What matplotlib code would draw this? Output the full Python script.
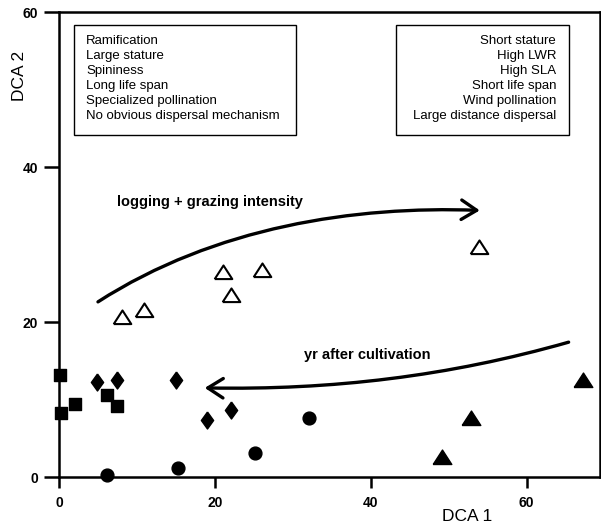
import matplotlib
matplotlib.use("Agg")
import matplotlib.pyplot as plt
from matplotlib.patches import FancyArrowPatch, Rectangle
from matplotlib.path import Path

plt.rcParams['font.family'] = ['Liberation Sans', 'DejaVu Sans']

# site scores (DCA 1, DCA 2) per group
sq_x = [0.1, 0.3, 2.0, 6.2, 7.4]
sq_y = [13.2, 8.3, 9.4, 10.6, 9.2]
dia_x = [4.9, 7.4, 15.0, 19.0, 22.1]
dia_y = [12.3, 12.5, 12.5, 7.4, 8.6]
circ_x = [6.2, 15.3, 25.1, 32.1]
circ_y = [0.2, 1.1, 3.1, 7.6]
tri_x = [49.1, 52.9, 67.2]
tri_y = [2.6, 7.6, 12.5]
open_x = [8.1, 10.9, 21.0, 22.1, 26.0, 53.9]
open_y = [20.7, 21.5, 26.5, 23.5, 26.7, 29.7]

left_traits = ["Ramification", "Large stature", "Spininess", "Long life span",
               "Specialized pollination", "No obvious dispersal mechanism"]
right_traits = ["Short stature", "High LWR", "High SLA", "Short life span",
                "Wind pollination", "Large distance dispersal"]

# bezier control points of the two trend arrows
arrow1 = [(5.0, 22.6), (20.0, 32.3), (38.0, 35.0), (54.0, 34.4)]
arrow2 = [(65.4, 17.4), (50.0, 13.0), (35.0, 11.2), (18.7, 11.5)]

fig = plt.figure(figsize=(6.01, 5.25), dpi=100)
ax = fig.add_axes([0.0982, 0.0914, 0.8998, 0.8857])

# custom marker shapes
diamond = [(0, 1), (0.72, 0), (0, -1), (-0.72, 0), (0, 1)]
triangle = [(-1, -0.75), (1, -0.75), (0, 0.8), (-1, -0.75)]

ax.scatter(sq_x, sq_y, marker="s", s=64, color="k", zorder=3, clip_on=False)
ax.scatter(dia_x, dia_y, marker=diamond, s=150, color="k", zorder=3, clip_on=False)
ax.scatter(circ_x, circ_y, marker="o", s=85, color="k", zorder=3, clip_on=False)
ax.scatter(tri_x, tri_y, marker=triangle, s=180, color="k", zorder=3, clip_on=False)
ax.scatter(open_x, open_y, marker=triangle, s=160, facecolor="white",
           edgecolor="k", linewidths=1.5, zorder=3, clip_on=False)

# trend arrows
codes = [Path.MOVETO, Path.CURVE4, Path.CURVE4, Path.CURVE4]
for pts in (arrow1, arrow2):
    arr = FancyArrowPatch(path=Path(pts, codes), arrowstyle="->,head_length=0.55,head_width=0.35",
                          mutation_scale=20, lw=2.4, color="k", transform=ax.transData)
    ax.add_patch(arr)

ax.text(7.4, 35.5, "logging + grazing intensity", fontsize=10.5, fontweight="bold", va="center")
ax.text(31.5, 15.7, "yr after cultivation", fontsize=10.5, fontweight="bold", va="center")

# trait boxes
ax.add_patch(Rectangle((1.9, 44.1), 28.5, 14.2, fill=False, lw=1, ec="k"))
ax.add_patch(Rectangle((43.3, 44.1), 22.1, 14.2, fill=False, lw=1, ec="k"))
for i, (lt, rt) in enumerate(zip(left_traits, right_traits)):
    y = 56.2 - i * 1.935
    ax.text(3.5, y, lt, fontsize=9.5, va="center", ha="left")
    ax.text(63.8, y, rt, fontsize=9.5, va="center", ha="right")

# axes formatting
ax.set_xlim(0, 69.4)
ax.set_ylim(0, 60)
ax.set_xticks([0, 20, 40, 60])
ax.set_yticks([0, 20, 40, 60])
for s in ax.spines.values():
    s.set_linewidth(1.8)
ax.tick_params(axis="x", direction="out", length=8, width=1.8, pad=6, labelsize=10)
ax.tick_params(axis="y", direction="out", length=11, width=1.8, pad=4, labelsize=10)
for lab in ax.get_xticklabels() + ax.get_yticklabels():
    lab.set_fontweight("bold")

ax.set_xlabel("DCA 1", fontsize=12.5, va="center")
ax.set_ylabel("DCA 2", fontsize=12.5)
ax.xaxis.set_label_coords(0.754, -0.084)
ax.yaxis.set_label_coords(-0.059, 0.862)

fig.savefig("out.png", dpi=100)
